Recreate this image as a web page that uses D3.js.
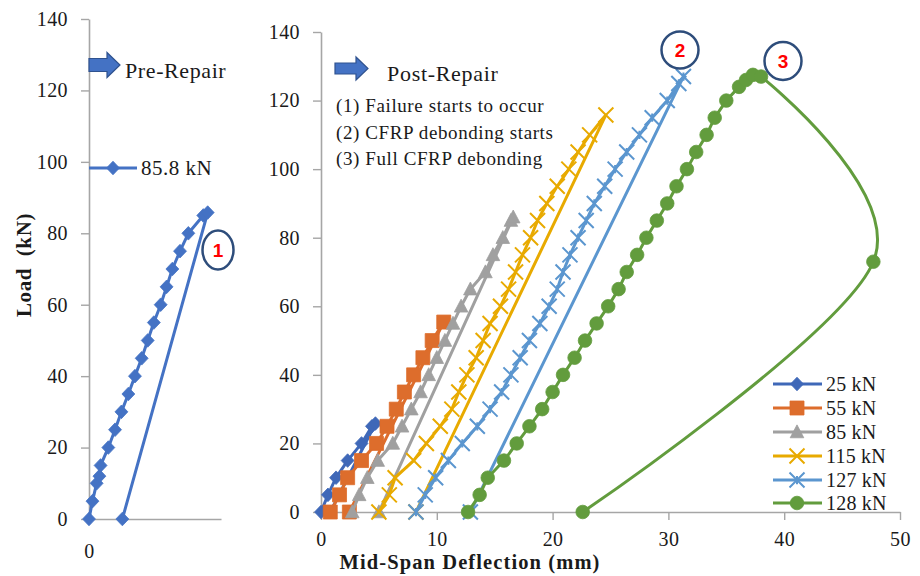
<!DOCTYPE html>
<html>
<head>
<meta charset="utf-8">
<script src="https://cdn.jsdelivr.net/npm/d3@7"></script>
<style>
  html, body { margin: 0; padding: 0; background: #ffffff; }
  svg { display: block; }
  text { font-family: "Liberation Serif", "Times New Roman", serif; fill: #1a1a1a; white-space: pre; }
</style>
</head>
<body>
<svg id="chart" width="920" height="576"></svg>
<script>
// ---------- data ----------
// Pre-repair test (left panel): load (kN) vs mid-span deflection (mm), last point = residual after unloading
const preLoad = [0, 5, 10, 12, 15, 20, 25, 30, 35, 40, 45, 50, 55, 60, 65, 70, 75, 80, 85, 85.8, 0];
const preDefl = [0, 0.3, 0.66, 0.9, 1.0, 1.67, 2.25, 2.8, 3.4, 3.97, 4.55, 5.07, 5.6, 6.19, 6.7, 7.2, 7.86, 8.58, 9.87, 10.25, 2.88];

// Post-repair cycles (right panel); the final point of each cycle is the unloaded residual deflection
const c25Load = [0, 5, 10, 15, 20, 25, 25.8, 0];
const c25Defl = [0, 0.6, 1.3, 2.3, 3.5, 4.4, 4.7, 0.8];

const c55Load = [0, 5, 10, 15, 20, 25, 30, 35, 40, 45, 50, 55.4, 0];
const c55Defl = [0.8, 1.6, 2.3, 3.5, 4.8, 5.7, 6.5, 7.2, 8.0, 8.8, 9.6, 10.6, 2.45];

const c85Load = [0, 5, 10, 15, 20, 25, 30, 35, 40, 45, 50, 55, 60, 65, 70, 75, 80, 85, 86, 0];
const c85Defl = [2.7, 3.3, 4.0, 4.9, 6.2, 7.0, 7.8, 8.6, 9.3, 10.0, 10.7, 11.4, 12.1, 12.9, 14.2, 14.85, 15.7, 16.4, 16.6, 5.0];

const c115Load = [0, 5, 10, 15, 20, 25, 30, 35, 40, 45, 50, 55, 60, 65, 70, 75, 80, 85, 90, 95, 100, 105, 110, 115.8, 0];
const c115Defl = [5.0, 5.9, 6.4, 8.0, 9.1, 10.3, 11.3, 11.9, 12.6, 13.4, 14.0, 14.6, 15.5, 16.2, 16.8, 17.4, 18.1, 18.7, 19.5, 20.4, 21.4, 22.2, 23.2, 24.6, 8.2];

const c127Load = [0, 5, 10, 15, 20, 25, 30, 35, 40, 45, 50, 55, 60, 65, 70, 75, 80, 85, 90, 95, 100, 105, 110, 115, 120, 125, 127, 0];
const c127Defl = [8.2, 9.0, 9.9, 11.0, 12.2, 13.5, 14.6, 15.6, 16.4, 17.2, 18.0, 18.9, 19.7, 20.4, 20.9, 21.5, 22.2, 22.9, 23.6, 24.5, 25.4, 26.4, 27.5, 28.6, 29.9, 30.9, 31.3, 12.9];

// 128 kN: loading branch, then the post-peak debonding branch (peak, 73 kN, residual)
const c128Load = [0, 5, 10, 15, 20, 25, 30, 35, 40, 45, 50, 55, 60, 65, 70, 75, 80, 85, 90, 95, 100, 105, 110, 115, 120, 124, 126, 127.5, 127];
const c128Defl = [12.7, 13.7, 14.4, 15.8, 16.9, 18.0, 19.1, 20.0, 20.9, 21.9, 22.8, 23.8, 24.8, 25.7, 26.4, 27.3, 28.1, 29.0, 29.9, 30.7, 31.6, 32.4, 33.3, 34.0, 35.0, 36.1, 36.7, 37.3, 38.0];
const c128PostLoad = [127, 73, 0];
const c128PostDefl = [38.0, 47.7, 22.6];

const seriesNames = ["25 kN", "55 kN", "85 kN", "115 kN", "127 kN", "128 kN"];
const seriesColors = ["#3f68b8", "#dd6d2c", "#a0a0a0", "#e8aa00", "#5b96cf", "#629c3d"];
const seriesMarkers = ["diamond", "square", "triangle", "x", "star", "circle"];

const preName = "85.8 kN";
const preColor = "#4472c4";

const yTicks = [0, 20, 40, 60, 80, 100, 120, 140];
const xTicksRight = [0, 10, 20, 30, 40, 50];
const xTicksLeft = [0];

const notes = ["(1) Failure starts to occur", "(2) CFRP debonding starts", "(3) Full CFRP debonding"];

// ---------- layout ----------
const svg = d3.select("#chart");
const axisColor = "#a6a6a6";

const xL = d3.scaleLinear().domain([0, 11.4]).range([89, 221]);
const yL = d3.scaleLinear().domain([0, 140]).range([519, 19]);
const xR = d3.scaleLinear().domain([0, 50]).range([321, 900]);
const yR = d3.scaleLinear().domain([0, 140]).range([512, 32]);

function styleAxis(g) {
  g.selectAll("path.domain").attr("stroke", axisColor).attr("stroke-width", 1.6);
  g.selectAll(".tick line").attr("stroke", axisColor).attr("stroke-width", 1.4);
  g.selectAll(".tick text")
    .attr("font-family", '"Liberation Serif", serif')
    .attr("font-size", 20).attr("fill", "#1a1a1a")
    .attr("letter-spacing", 0.4);
}

// left panel axes
svg.append("g").attr("transform", `translate(${xL(0)},0)`)
  .call(d3.axisLeft(yL).tickValues(yTicks).tickSize(8).tickSizeOuter(0).tickPadding(13))
  .call(styleAxis);
svg.append("g").attr("transform", `translate(0,${yL(0)})`)
  .call(d3.axisBottom(xL).tickValues(xTicksLeft).tickSize(0).tickSizeOuter(0).tickPadding(25))
  .call(styleAxis);

// right panel axes
svg.append("g").attr("transform", `translate(${xR(0)},0)`)
  .call(d3.axisLeft(yR).tickValues(yTicks).tickSize(8).tickSizeOuter(0).tickPadding(13))
  .call(styleAxis);
svg.append("g").attr("transform", `translate(0,${yR(0)})`)
  .call(d3.axisBottom(xR).tickValues(xTicksRight).tickSize(8).tickSizeOuter(0).tickPadding(12))
  .call(styleAxis);

// axis titles
svg.append("text")
  .attr("transform", "translate(31,265) rotate(-90)")
  .attr("text-anchor", "middle")
  .attr("font-size", 21).attr("font-weight", "bold").attr("letter-spacing", 0.6)
  .text("Load  (kN)");
svg.append("text")
  .attr("x", 470).attr("y", 569)
  .attr("text-anchor", "middle")
  .attr("font-size", 20.5).attr("font-weight", "bold").attr("letter-spacing", 1.1)
  .text("Mid-Span Deflection (mm)");

// ---------- markers ----------
function markerPath(type, s) {
  const p = d3.path();
  switch (type) {
    case "diamond": p.moveTo(0, -s); p.lineTo(s * 0.95, 0); p.lineTo(0, s); p.lineTo(-s * 0.95, 0); p.closePath(); break;
    case "square": p.rect(-s, -s, 2 * s, 2 * s); break;
    case "triangle": p.moveTo(0, -s * 1.05); p.lineTo(s, s * 0.85); p.lineTo(-s, s * 0.85); p.closePath(); break;
    case "circle": p.arc(0, 0, s, 0, 2 * Math.PI); break;
    case "x": p.moveTo(-s, -s); p.lineTo(s, s); p.moveTo(s, -s); p.lineTo(-s, s); break;
    case "star": p.moveTo(-s, -s); p.lineTo(s, s); p.moveTo(s, -s); p.lineTo(-s, s); p.moveTo(0, -s * 0.55); p.lineTo(0, s * 0.55); break;
  }
  return p.toString();
}
const markerSize = { diamond: 6.8, square: 7, triangle: 6.8, circle: 6.8, x: 7.5, star: 7.5 };

function drawMarkers(g, pts, type, color) {
  const filled = type !== "x" && type !== "star";
  g.selectAll(null).data(pts).join("path")
    .attr("transform", d => `translate(${d[0]},${d[1]})`)
    .attr("d", markerPath(type, markerSize[type]))
    .attr("fill", filled ? color : "none")
    .attr("stroke", color)
    .attr("stroke-width", filled ? 0.8 : 2);
}

function zipPoints(defl, load, xs, ys) {
  return defl.map((d, i) => [xs(d), ys(load[i])]);
}

const lineGen = d3.line();
const smoothGen = d3.line().curve(d3.curveCardinal.tension(0));

// ---------- left panel: pre-repair ----------
const gPre = svg.append("g");
const prePts = zipPoints(preDefl, preLoad, xL, yL);
gPre.append("path").attr("d", lineGen(prePts))
  .attr("fill", "none").attr("stroke", preColor).attr("stroke-width", 3).attr("stroke-linejoin", "round");
drawMarkers(gPre, prePts, "diamond", preColor);

// ---------- right panel: post-repair cycles ----------
const cycles = [
  [c25Defl, c25Load], [c55Defl, c55Load], [c85Defl, c85Load],
  [c115Defl, c115Load], [c127Defl, c127Load], [c128Defl, c128Load]
];
cycles.forEach(([defl, load], i) => {
  const g = svg.append("g");
  const pts = zipPoints(defl, load, xR, yR);
  g.append("path").attr("d", lineGen(pts))
    .attr("fill", "none").attr("stroke", seriesColors[i]).attr("stroke-width", 3).attr("stroke-linejoin", "round");
  if (i === 5) {
    const post = zipPoints(c128PostDefl, c128PostLoad, xR, yR);
    g.append("path").attr("d", smoothGen(post))
      .attr("fill", "none").attr("stroke", seriesColors[i]).attr("stroke-width", 3);
    drawMarkers(g, pts.concat(post.slice(1)), seriesMarkers[i], seriesColors[i]);
  } else {
    drawMarkers(g, pts, seriesMarkers[i], seriesColors[i]);
  }
});

// ---------- legends ----------
const leg = svg.append("g");
const legRows = [384, 408, 432, 456, 480, 503];
seriesNames.forEach((name, i) => {
  const y = legRows[i];
  leg.append("line").attr("x1", 773).attr("x2", 822).attr("y1", y).attr("y2", y)
    .attr("stroke", seriesColors[i]).attr("stroke-width", 3);
  drawMarkers(leg, [[797, y]], seriesMarkers[i], seriesColors[i]);
  leg.append("text").attr("x", 826).attr("y", y).attr("dy", "0.35em")
    .attr("font-size", 20).attr("letter-spacing", 0.2).text(name);
});

const preLeg = svg.append("g");
preLeg.append("line").attr("x1", 89).attr("x2", 137).attr("y1", 168).attr("y2", 168)
  .attr("stroke", preColor).attr("stroke-width", 3);
drawMarkers(preLeg, [[113, 168]], "diamond", preColor);
preLeg.append("text").attr("x", 141).attr("y", 168).attr("dy", "0.35em")
  .attr("font-size", 21).attr("letter-spacing", 0.5).text(preName);

// ---------- block arrows and panel titles ----------
function blockArrow(x0, x1, cy, shaftH, headH, headX) {
  const p = d3.path();
  p.moveTo(x0, cy - shaftH); p.lineTo(headX, cy - shaftH); p.lineTo(headX, cy - headH);
  p.lineTo(x1, cy); p.lineTo(headX, cy + headH); p.lineTo(headX, cy + shaftH);
  p.lineTo(x0, cy + shaftH); p.closePath();
  return p.toString();
}
svg.append("path").attr("d", blockArrow(89, 120, 65, 6.5, 12.5, 107))
  .attr("fill", "#4472c4").attr("stroke", "#2f528f").attr("stroke-width", 1.2);
svg.append("text").attr("x", 125).attr("y", 78).attr("font-size", 22).attr("letter-spacing", 0.6).text("Pre-Repair");

svg.append("path").attr("d", blockArrow(335, 368, 68.5, 5.5, 11.5, 356))
  .attr("fill", "#4472c4").attr("stroke", "#2f528f").attr("stroke-width", 1.2);
svg.append("text").attr("x", 387).attr("y", 81).attr("font-size", 22).attr("letter-spacing", 0.7).text("Post-Repair");

notes.forEach((t, i) => {
  svg.append("text").attr("x", 336).attr("y", 112 + i * 26.5)
    .attr("font-size", 19).attr("letter-spacing", 0.6).text(t);
});

// ---------- numbered event callouts ----------
const callouts = [
  { n: "1", x: 218, y: 250, rx: 15.5, ry: 19.5 },
  { n: "2", x: 680, y: 50, rx: 18.5, ry: 18.5 },
  { n: "3", x: 783, y: 61, rx: 18.5, ry: 19 }
];
callouts.forEach(c => {
  svg.append("ellipse").attr("cx", c.x).attr("cy", c.y).attr("rx", c.rx).attr("ry", c.ry)
    .attr("fill", "#ffffff").attr("stroke", "#2e4d7b").attr("stroke-width", 2.5);
  svg.append("text").attr("x", c.x).attr("y", c.y).attr("dy", "0.36em")
    .attr("text-anchor", "middle")
    .style("font-family", '"Liberation Sans", Arial, sans-serif')
    .attr("font-size", 19).attr("font-weight", "bold")
    .style("fill", "#ff0000")
    .text(c.n);
});
</script>
</body>
</html>
